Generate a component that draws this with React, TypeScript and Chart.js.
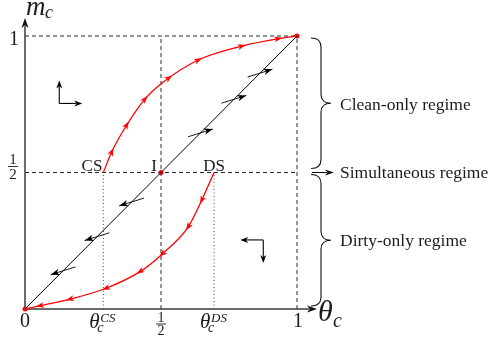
import React, { useEffect, useRef } from "react";
import { Chart, registerables } from "chart.js";
Chart.register(...registerables);

// ---- data (unit square phase diagram) ----
const diagonalX = [0, 1];
const diagonalY = [0, 1];
const cleanPathX = [0.288, 0.319, 0.374, 0.441, 0.503, 0.637, 0.797, 0.931, 1];
const cleanPathY = [0.5, 0.576, 0.674, 0.769, 0.827, 0.912, 0.963, 0.99, 1];
const dirtyPathX = [0, 0.055, 0.165, 0.298, 0.423, 0.503, 0.6, 0.65, 0.695];
const dirtyPathY = [0, 0.012, 0.036, 0.076, 0.137, 0.2, 0.301, 0.399, 0.5];
const cleanArrowX = [0.319, 0.374, 0.441, 0.529, 0.637, 0.797, 0.931];
const dirtyArrowX = [0.65, 0.6, 0.505, 0.423, 0.298, 0.165, 0.055];
const diagonalUpArrowX = [0.645, 0.768, 0.864];
const diagonalDownArrowX = [0.14, 0.265, 0.392];
const equilibriumX = [0, 0.5, 1];
const equilibriumY = [0, 0.5, 1];
const thetaCS = 0.288;
const thetaDS = 0.695;
const pointLabels = ["CS", "I", "DS"];
const regimeLabels = ["Clean-only regime", "Simultaneous regime", "Dirty-only regime"];
const cornerArrowX = [0.126, 0.876];
const cornerArrowY = [0.753, 0.253];

const SERIF = '"Liberation Serif", "DejaVu Serif", serif';
const TXT = "#1c1c1c";

function head(ctx: CanvasRenderingContext2D, tx: number, ty: number, ang: number, len = 8, wid = 6.5) {
  const c = Math.cos(ang), s = Math.sin(ang);
  const bx = tx - len * c, by = ty - len * s;
  const px = (-s * wid) / 2, py = (c * wid) / 2;
  ctx.beginPath();
  ctx.moveTo(tx, ty);
  ctx.lineTo(bx + px, by + py);
  ctx.lineTo(tx - len * 0.72 * c, ty - len * 0.72 * s);
  ctx.lineTo(bx - px, by - py);
  ctx.closePath();
  ctx.fill();
}

function seg(ctx: CanvasRenderingContext2D, x1: number, y1: number, x2: number, y2: number) {
  ctx.beginPath();
  ctx.moveTo(x1, y1);
  ctx.lineTo(x2, y2);
  ctx.stroke();
}

function bez(p0: number, p1: number, p2: number, p3: number, t: number) {
  const u = 1 - t;
  return u * u * u * p0 + 3 * u * u * t * p1 + 3 * u * t * t * p2 + t * t * t * p3;
}
function bezD(p0: number, p1: number, p2: number, p3: number, t: number) {
  const u = 1 - t;
  return 3 * u * u * (p1 - p0) + 6 * u * t * (p2 - p1) + 3 * t * t * (p3 - p2);
}

function curveAt(pts: any[], px: number) {
  for (let i = 0; i < pts.length - 1; i++) {
    const a = pts[i], b = pts[i + 1];
    if (px >= a.x && px <= b.x) {
      const X = [a.x, a.cp2x ?? a.x, b.cp1x ?? b.x, b.x];
      const Y = [a.y, a.cp2y ?? a.y, b.cp1y ?? b.y, b.y];
      let lo = 0, hi = 1;
      for (let k = 0; k < 40; k++) {
        const m = (lo + hi) / 2;
        if (bez(X[0], X[1], X[2], X[3], m) < px) lo = m; else hi = m;
      }
      const t = (lo + hi) / 2;
      let dx = bezD(X[0], X[1], X[2], X[3], t), dy = bezD(Y[0], Y[1], Y[2], Y[3], t);
      if (Math.abs(dx) + Math.abs(dy) < 1e-6) { dx = b.x - a.x; dy = b.y - a.y; }
      return { x: bez(X[0], X[1], X[2], X[3], t), y: bez(Y[0], Y[1], Y[2], Y[3], t), ang: Math.atan2(dy, dx) };
    }
  }
  return null;
}

function brace(ctx: CanvasRenderingContext2D, x0: number, top: number, bot: number, w: number) {
  const xm = x0 + w / 2, mid = (top + bot) / 2, r = 9;
  ctx.beginPath();
  ctx.moveTo(x0, top);
  ctx.quadraticCurveTo(xm, top, xm, top + r);
  ctx.lineTo(xm, mid - r);
  ctx.quadraticCurveTo(xm, mid, x0 + w, mid);
  ctx.quadraticCurveTo(xm, mid, xm, mid + r);
  ctx.lineTo(xm, bot - r);
  ctx.quadraticCurveTo(xm, bot, x0, bot);
  ctx.stroke();
}

function fraction(ctx: CanvasRenderingContext2D, cx: number, barY: number, size: number) {
  ctx.font = `${size}px ${SERIF}`;
  ctx.textAlign = "center";
  ctx.textBaseline = "alphabetic";
  ctx.fillText("1", cx, barY - 2.5);
  ctx.fillText("2", cx, barY + size * 0.82);
  ctx.lineWidth = 0.9;
  seg(ctx, cx - 5, barY, cx + 5, barY);
}

const phasePlugin = {
  id: "phase",
  beforeDatasetsDraw(chart: any) {
    const { ctx } = chart;
    const sx = chart.scales.x, sy = chart.scales.y;
    const X = (v: number) => sx.getPixelForValue(v);
    const Y = (v: number) => sy.getPixelForValue(v);
    ctx.save();
    ctx.strokeStyle = "#111";
    ctx.lineWidth = 0.9;
    ctx.setLineDash([4, 3]);
    seg(ctx, X(0), Y(1), X(1), Y(1));
    seg(ctx, X(1), Y(0), X(1), Y(1));
    seg(ctx, X(0), Y(0.5), X(1), Y(0.5));
    seg(ctx, X(0.5), Y(0), X(0.5), Y(1));
    ctx.setLineDash([1, 2.5]);
    ctx.strokeStyle = "#333";
    seg(ctx, X(thetaCS), Y(0), X(thetaCS), Y(0.5));
    seg(ctx, X(thetaDS), Y(0), X(thetaDS), Y(0.5));
    ctx.setLineDash([]);
    // axes
    ctx.strokeStyle = "#3a3a3a";
    ctx.fillStyle = "#111";
    ctx.lineWidth = 1.5;
    seg(ctx, X(0), Y(0), X(1) + 12, Y(0));
    head(ctx, X(1) + 20, Y(0), 0, 10, 7);
    seg(ctx, X(0), Y(0), X(0), Y(1) - 10);
    head(ctx, X(0), Y(1) - 18, -Math.PI / 2, 10, 7);
    ctx.restore();
  },
  afterDatasetsDraw(chart: any) {
    const { ctx } = chart;
    const sx = chart.scales.x, sy = chart.scales.y;
    const X = (v: number) => sx.getPixelForValue(v);
    const Y = (v: number) => sy.getPixelForValue(v);
    ctx.save();

    // arrowheads on red trajectories
    ctx.fillStyle = "#ff0000";
    const cleanPts = chart.getDatasetMeta(1).data;
    cleanArrowX.forEach((v) => {
      const p = curveAt(cleanPts, X(v));
      if (!p) return;
      head(ctx, p.x + 4 * Math.cos(p.ang), p.y + 4 * Math.sin(p.ang), p.ang, 8, 6);
    });
    const dirtyPts = chart.getDatasetMeta(2).data;
    dirtyArrowX.forEach((v) => {
      const p = curveAt(dirtyPts, X(v));
      if (!p) return;
      const a = p.ang + Math.PI;
      head(ctx, p.x + 4 * Math.cos(a), p.y + 4 * Math.sin(a), a, 8, 6);
    });

    // flow arrows across the diagonal
    ctx.fillStyle = "#000";
    ctx.strokeStyle = "#000";
    ctx.lineWidth = 0.9;
    const ang = Math.atan2(-8, 25.6);
    const hl = 13;
    const c = Math.cos(ang), s = Math.sin(ang);
    diagonalUpArrowX.forEach((v) => {
      const cx = X(v), cy = Y(v);
      seg(ctx, cx - hl * c, cy - hl * s, cx + hl * c, cy + hl * s);
      head(ctx, cx + hl * c, cy + hl * s, ang, 9, 6.5);
    });
    diagonalDownArrowX.forEach((v) => {
      const cx = X(v), cy = Y(v);
      seg(ctx, cx - hl * c, cy - hl * s, cx + hl * c, cy + hl * s);
      head(ctx, cx - hl * c, cy - hl * s, ang + Math.PI, 9, 6.5);
    });

    // corner arrows
    ctx.lineWidth = 1.1;
    const L = 23;
    {
      const cx = X(cornerArrowX[0]), cy = Y(cornerArrowY[0]);
      seg(ctx, cx, cy, cx, cy - L + 6);
      head(ctx, cx, cy - L, -Math.PI / 2, 8, 6);
      seg(ctx, cx, cy, cx + L - 6, cy);
      head(ctx, cx + L, cy, 0, 8, 6);
    }
    {
      const cx = X(cornerArrowX[1]), cy = Y(cornerArrowY[1]);
      seg(ctx, cx, cy, cx - L + 6, cy);
      head(ctx, cx - L, cy, Math.PI, 8, 6);
      seg(ctx, cx, cy, cx, cy + L - 6);
      head(ctx, cx, cy + L, Math.PI / 2, 8, 6);
    }

    // point labels
    ctx.fillStyle = TXT;
    ctx.font = `17px ${SERIF}`;
    ctx.textBaseline = "alphabetic";
    ctx.textAlign = "right";
    ctx.fillText(pointLabels[0], X(thetaCS) - 1, Y(0.5) - 1.5);
    ctx.fillText(pointLabels[1], X(0.5) - 4, Y(0.5) - 1.5);
    ctx.textAlign = "center";
    ctx.fillText(pointLabels[2], X(thetaDS), Y(0.5) - 1.5);

    // tick labels
    ctx.font = `20px ${SERIF}`;
    ctx.textAlign = "center";
    ctx.fillText("0", X(0), Y(0) + 18);
    ctx.fillText("1", X(1) + 1, Y(0) + 18);
    ctx.fillText("1", 14, Y(1) + 9);
    ctx.strokeStyle = TXT;
    fraction(ctx, X(0.5), Y(0) + 15, 14);
    fraction(ctx, 13, Y(0.5) - 6, 15);

    const thetaLabel = (px: number, sup: string) => {
      ctx.textAlign = "left";
      ctx.font = `italic 21px ${SERIF}`;
      ctx.fillText("θ", px - 14, Y(0) + 19);
      ctx.font = `italic 14px ${SERIF}`;
      ctx.fillText("c", px - 6, Y(0) + 23);
      ctx.font = `italic 13px ${SERIF}`;
      ctx.fillText(sup, px - 3, Y(0) + 13);
    };
    thetaLabel(X(thetaCS), "CS");
    thetaLabel(X(thetaDS), "DS");

    // axis titles
    ctx.textAlign = "left";
    ctx.font = `italic 27px ${SERIF}`;
    ctx.fillText("m", 26, Y(1) - 21);
    ctx.font = `italic 18px ${SERIF}`;
    ctx.fillText("c", 45, Y(1) - 18);
    ctx.font = `italic 30px ${SERIF}`;
    ctx.fillText("θ", X(1) + 21, Y(0) + 12);
    ctx.font = `italic 20px ${SERIF}`;
    ctx.fillText("c", X(1) + 36, Y(0) + 18);

    // braces and regime labels
    ctx.strokeStyle = "#111";
    ctx.lineWidth = 1.1;
    const bx = X(1) + 14;
    brace(ctx, bx, Y(1) + 2, Y(0.5) - 4, 20);
    brace(ctx, bx, Y(0.5) + 2, Y(0) - 3, 20);
    seg(ctx, bx + 1, Y(0.5), bx + 16, Y(0.5));
    ctx.fillStyle = "#111";
    head(ctx, bx + 23, Y(0.5), 0, 9, 6);

    ctx.fillStyle = TXT;
    ctx.font = `17.5px ${SERIF}`;
    ctx.textAlign = "left";
    ctx.textBaseline = "middle";
    ctx.fillText(regimeLabels[0], bx + 29, (Y(1) + Y(0.5)) / 2 + 1);
    ctx.fillText(regimeLabels[1], bx + 29, Y(0.5) + 1);
    ctx.fillText(regimeLabels[2], bx + 29, (Y(0.5) + Y(0)) / 2 + 1);
    ctx.restore();
  },
};

export default function App() {
  const ref = useRef<HTMLCanvasElement | null>(null);
  useEffect(() => {
    if (!ref.current) return;
    const toPts = (xs: number[], ys: number[]) => xs.map((x, i) => ({ x, y: ys[i] }));
    const chart = new Chart(ref.current, {
      type: "scatter",
      data: {
        datasets: [
          { data: toPts(diagonalX, diagonalY), showLine: true, borderColor: "#000", borderWidth: 1, pointRadius: 0, clip: false } as any,
          { data: toPts(cleanPathX, cleanPathY), showLine: true, borderColor: "#ff0000", borderWidth: 1.3, pointRadius: 0, cubicInterpolationMode: "monotone", clip: false } as any,
          { data: toPts(dirtyPathX, dirtyPathY), showLine: true, borderColor: "#ff0000", borderWidth: 1.3, pointRadius: 0, cubicInterpolationMode: "monotone", clip: false } as any,
          { data: toPts(equilibriumX, equilibriumY), showLine: false, pointRadius: 2.5, pointBackgroundColor: "#ff0000", pointBorderWidth: 0, clip: false } as any,
        ],
      },
      options: {
        animation: false,
        responsive: false,
        devicePixelRatio: 1,
        layout: { padding: { left: 25, right: 196, top: 36, bottom: 34 } },
        scales: {
          x: { type: "linear", min: 0, max: 1, display: false },
          y: { type: "linear", min: 0, max: 1, display: false },
        },
        plugins: { legend: { display: false }, tooltip: { enabled: false } },
        events: [],
      },
      plugins: [phasePlugin],
    });
    return () => chart.destroy();
  }, []);
  return (
    <div style={{ position: "absolute", left: 0, top: 0, width: 493, height: 343, background: "#fff" }}>
      <canvas ref={ref} width={493} height={343} />
    </div>
  );
}
